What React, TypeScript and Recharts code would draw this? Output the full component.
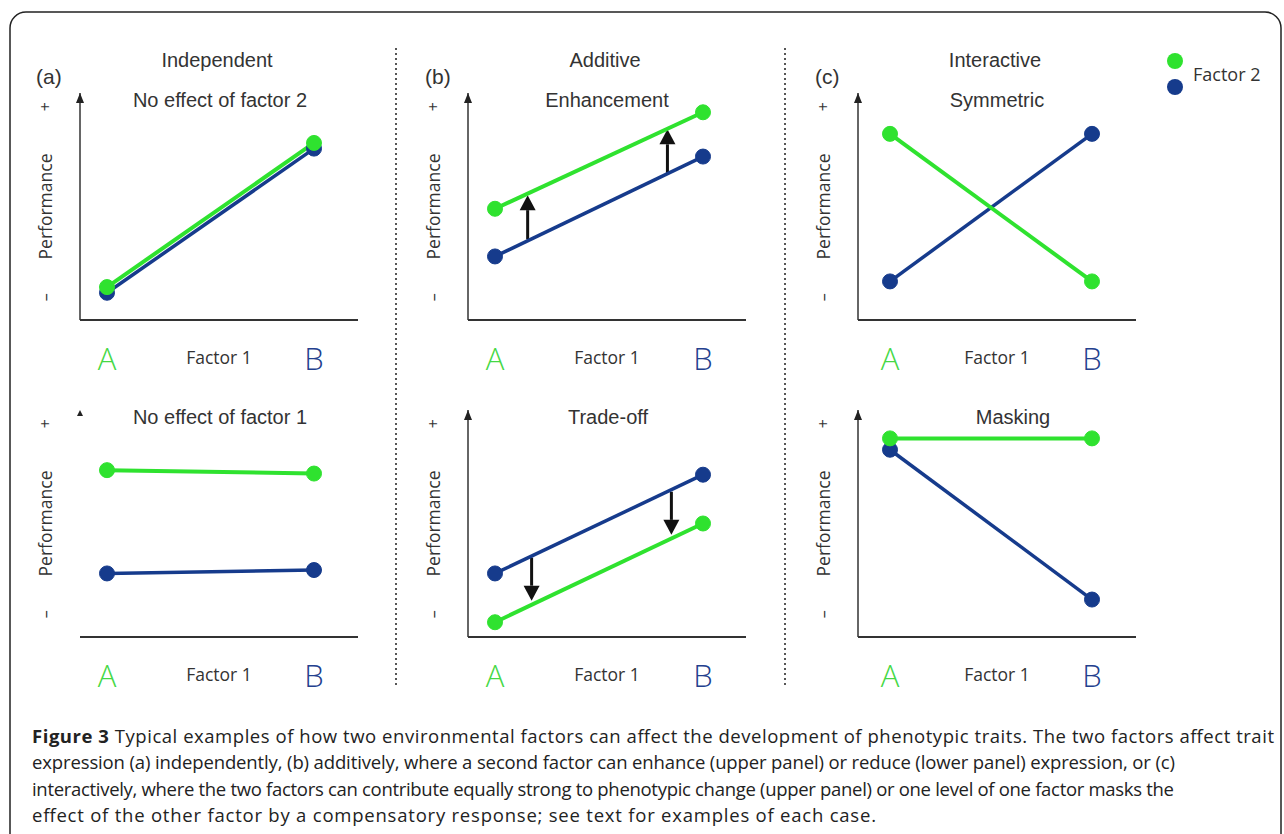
import React from 'react'
import { LineChart, Line, XAxis, YAxis, ReferenceLine, Legend } from 'recharts'

// Factor 1 levels (A, B) and the two-level performance scale
const factor1Levels = [0, 1]
const factor1Labels = ['A', 'B']
const perfTicks = [1, 9.4]
const perfTickLabels = ['\u2013', '+']

// (a) independent
const noEffectF2Green = [1.45, 7.8]
const noEffectF2Blue = [1.2, 7.55]
const noEffectF1Green = [7.35, 7.2]
const noEffectF1Blue = [2.8, 2.95]

// (b) additive
const enhanceGreen = [4.9, 9.15]
const enhanceBlue = [2.8, 7.2]
const enhanceArrowAt = [0.157, 0.829]
const enhanceArrowFrom = [3.55, 6.45]
const enhanceArrowTo = [5.5, 8.4]
const tradeoffGreen = [0.65, 5.0]
const tradeoffBlue = [2.8, 7.15]
const tradeoffArrowAt = [0.176, 0.848]
const tradeoffArrowFrom = [3.5, 6.4]
const tradeoffArrowTo = [1.6, 4.5]

// (c) interactive
const symmetricGreen = [8.2, 1.7]
const symmetricBlue = [1.7, 8.2]
const maskingGreen = [8.75, 8.75]
const maskingBlue = [8.25, 1.65]

const columnHeads = ['Independent', 'Additive', 'Interactive']
const panelLetters = ['(a)', '(b)', '(c)']
const upperTitles = ['No effect of factor 2', 'Enhancement', 'Symmetric']
const lowerTitles = ['No effect of factor 1', 'Trade-off', 'Masking']

const captionLines = [
  ' Typical examples of how two environmental factors can affect the development of phenotypic traits. The two factors affect trait',
  'expression (a) independently, (b) additively, where a second factor can enhance (upper panel) or reduce (lower panel) expression, or (c)',
  'interactively, where the two factors can contribute equally strong to phenotypic change (upper panel) or one level of one factor masks the',
  'effect of the other factor by a compensatory response; see text for examples of each case.',
]
// measured line lengths in the figure
const captionWidths = [1242, 1143, 1142, 844]

const GREEN = '#2fe22f'
const BLUE = '#163b8c'
const GREEN_LABEL = '#45d845'
const BLUE_LABEL = '#23408e'
const AXIS = '#333'
const SANS = "'Open Sans', 'Noto Sans', sans-serif"
const ARIAL = "'Liberation Sans', Arial, sans-serif"

const buildData = (green: number[], blue: number[]) =>
  factor1Levels.map((x, i) => ({ x, g: green[i], b: blue[i] }))

const buildArrows = (at: number[], from: number[], to: number[]) =>
  at.map((x, i) => ({ x, from: from[i], to: to[i] }))

const FactorTick = (props: any) => {
  const { x, y, payload } = props
  const i = factor1Levels.indexOf(payload.value)
  return (
    <text
      x={x}
      y={y + 38}
      textAnchor="middle"
      dominantBaseline="central"
      fill={i === 0 ? GREEN_LABEL : BLUE_LABEL}
      fontSize={31}
      fontWeight={300}
      fontFamily={SANS}
    >
      {factor1Labels[i]}
    </text>
  )
}

const PerfTick = (props: any) => {
  const { x, y, payload } = props
  const i = perfTicks.indexOf(payload.value)
  return (
    <text
      transform={`translate(${x - 35},${y}) rotate(-90)`}
      textAnchor="middle"
      dominantBaseline="central"
      fill="#333"
      fontSize={16}
      fontFamily={SANS}
    >
      {perfTickLabels[i]}
    </text>
  )
}

const perfLabel = (props: any) => {
  const { x, y, width, height } = props.viewBox
  const cx = x + width / 2
  const cy = y + height / 2
  return (
    <text
      transform={`translate(${cx},${cy}) rotate(-90)`}
      textAnchor="middle"
      dominantBaseline="central"
      fill="#333"
      fontSize={17.5}
      fontFamily={SANS}
    >
      Performance
    </text>
  )
}

const factorLabel = (props: any) => {
  const { x, y, width, height } = props.viewBox
  return (
    <text
      x={x + width / 2}
      y={y + height / 2}
      textAnchor="middle"
      dominantBaseline="central"
      fill="#333"
      fontSize={17.5}
      fontFamily={SANS}
    >
      Factor 1
    </text>
  )
}

const ArrowShape = (props: any) => {
  const { x1, y1, x2, y2 } = props
  const dir = y2 < y1 ? -1 : 1
  const base = y2 - dir * 15
  return (
    <g>
      <line x1={x1} y1={y1} x2={x2} y2={base} stroke="#111" strokeWidth={3} />
      <path d={`M${x2 - 8},${base} L${x2},${y2} L${x2 + 8},${base} Z`} fill="#111" />
    </g>
  )
}

const FactorLegend = (props: any) => {
  const items = props.payload || []
  const green = items.find((p: any) => p.dataKey === 'g')
  const blue = items.find((p: any) => p.dataKey === 'b')
  return (
    <svg width={110} height={50}>
      <circle cx={10} cy={9} r={8} fill={green ? green.color : GREEN} />
      <circle cx={10} cy={35} r={8} fill={blue ? blue.color : BLUE} />
      <text x={28} y={22} dominantBaseline="central" fontSize={18} fill="#333" fontFamily={SANS}>
        Factor 2
      </text>
    </svg>
  )
}

interface PanelProps {
  left: number
  top: number
  width: number
  marginTop: number
  green: number[]
  blue: number[]
  padLeft: number
  padRight: number
  marker: string
  yLine?: boolean
  arrows?: { x: number; from: number; to: number }[]
  legend?: boolean
}

function Panel({ left, top, width, marginTop, green, blue, padLeft, padRight, marker, yLine = true, arrows = [], legend }: PanelProps) {
  const data = buildData(green, blue)
  return (
    <div style={{ position: 'absolute', left, top }}>
      <LineChart
        width={width}
        height={marginTop + 227 + 74}
        data={data}
        margin={{ top: marginTop, right: width - 360 + 12, bottom: 0, left: 0 }}
      >
        <XAxis
          dataKey="x"
          type="number"
          domain={[0, 1]}
          ticks={factor1Levels}
          padding={{ left: padLeft, right: padRight }}
          height={74}
          tickSize={0}
          tickMargin={0}
          tickLine={false}
          axisLine={{ stroke: AXIS, strokeWidth: 2 }}
          tick={<FactorTick />}
          label={factorLabel}
        />
        <YAxis
          type="number"
          domain={[0, 10]}
          ticks={perfTicks}
          width={70}
          tickSize={0}
          tickMargin={0}
          tickLine={false}
          axisLine={{ stroke: yLine ? AXIS : 'none', strokeWidth: 1.5, markerStart: `url(#${marker})` }}
          tick={<PerfTick />}
          label={perfLabel}
        />
        {arrows.map((a, i) => (
          <ReferenceLine
            key={i}
            segment={[{ x: a.x, y: a.from }, { x: a.x, y: a.to }]}
            shape={ArrowShape}
            ifOverflow="visible"
          />
        ))}
        <Line
          dataKey="b"
          stroke={BLUE}
          strokeWidth={3.5}
          dot={{ r: 7.5, fill: BLUE, stroke: BLUE, strokeWidth: 1 }}
          activeDot={false}
          legendType="circle"
          isAnimationActive={false}
        />
        <Line
          dataKey="g"
          stroke={GREEN}
          strokeWidth={4}
          dot={{ r: 7.5, fill: GREEN, stroke: GREEN, strokeWidth: 1 }}
          activeDot={false}
          legendType="circle"
          isAnimationActive={false}
        />
        {legend && (
          <Legend
            layout="vertical"
            align="center"
            verticalAlign="middle"
            content={FactorLegend}
            wrapperStyle={{ left: 377, top: 22, width: 110, height: 50 }}
          />
        )}
      </LineChart>
    </div>
  )
}

const headX = [217, 605, 995]
const upperX = [220, 607, 997]
const lowerX = [220, 608, 1013]
const letterX = [36, 425, 815]

export default function App() {
  return (
    <div style={{ position: 'fixed', left: 0, top: 0, width: 1284, height: 834, overflow: 'hidden', background: '#fff' }}>
      <svg width={1284} height={834} style={{ position: 'absolute', left: 0, top: 0 }}>
        <defs>
          <marker id="yArrow" viewBox="0 0 8 10" refX={4} refY={0} markerWidth={8} markerHeight={10} markerUnits="userSpaceOnUse">
            <path d="M0,10 L4,0 L8,10 Z" fill="#222" />
          </marker>
          <marker id="yArrowSmall" viewBox="0 0 6 6" refX={3} refY={0} markerWidth={6} markerHeight={6} markerUnits="userSpaceOnUse">
            <path d="M0,6 L3,0 L6,6 Z" fill="#222" />
          </marker>
        </defs>
        <rect x={10} y={12} width={1271} height={900} rx={16} fill="none" stroke="#222" strokeWidth={1.5} />
        {[396, 785].map((x) => (
          <line key={x} x1={x} y1={48} x2={x} y2={686} stroke="#444" strokeWidth={1.8} strokeDasharray="2 3" />
        ))}
        {columnHeads.map((t, i) => (
          <text key={t} x={headX[i]} y={60} textAnchor="middle" dominantBaseline="central" fontSize={20} fill="#333" fontFamily={ARIAL}>
            {t}
          </text>
        ))}
        {panelLetters.map((t, i) => (
          <text key={t} x={letterX[i]} y={76} dominantBaseline="central" fontSize={21} fill="#333" fontFamily={ARIAL}>
            {t}
          </text>
        ))}
        {upperTitles.map((t, i) => (
          <text key={t} x={upperX[i]} y={100} textAnchor="middle" dominantBaseline="central" fontSize={20} fill="#333" fontFamily={ARIAL}>
            {t}
          </text>
        ))}
        {lowerTitles.map((t, i) => (
          <text key={t} x={lowerX[i]} y={417} textAnchor="middle" dominantBaseline="central" fontSize={20} fill="#333" fontFamily={ARIAL}>
            {t}
          </text>
        ))}
        {captionLines.map((line, i) => (
          <text
            key={i}
            x={32}
            y={735 + i * 26.5}
            dominantBaseline="central"
            fontSize={18.5}
            fill="#222"
            fontFamily={SANS}
            textLength={captionWidths[i]}
            lengthAdjust="spacing"
          >
            {i === 0 && <tspan fontWeight={700}>Figure 3</tspan>}
            {line}
          </text>
        ))}
      </svg>

      <Panel left={10} top={30} width={360} marginTop={63} green={noEffectF2Green} blue={noEffectF2Blue} padLeft={27} padRight={44} marker="yArrow" />
      <Panel
        left={398}
        top={30}
        width={360}
        marginTop={63}
        green={enhanceGreen}
        blue={enhanceBlue}
        padLeft={27}
        padRight={43}
        marker="yArrow"
        arrows={buildArrows(enhanceArrowAt, enhanceArrowFrom, enhanceArrowTo)}
      />
      <Panel left={788} top={30} width={496} marginTop={63} green={symmetricGreen} blue={symmetricBlue} padLeft={32} padRight={44} marker="yArrow" legend />

      <Panel left={10} top={370} width={360} marginTop={40} green={noEffectF1Green} blue={noEffectF1Blue} padLeft={27} padRight={44} marker="yArrowSmall" yLine={false} />
      <Panel
        left={398}
        top={370}
        width={360}
        marginTop={40}
        green={tradeoffGreen}
        blue={tradeoffBlue}
        padLeft={27}
        padRight={43}
        marker="yArrow"
        arrows={buildArrows(tradeoffArrowAt, tradeoffArrowFrom, tradeoffArrowTo)}
      />
      <Panel left={788} top={370} width={360} marginTop={40} green={maskingGreen} blue={maskingBlue} padLeft={32} padRight={44} marker="yArrow" />
    </div>
  )
}
